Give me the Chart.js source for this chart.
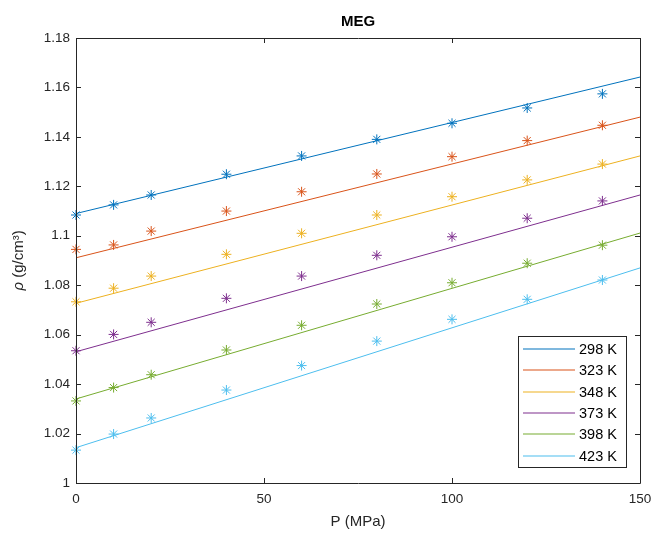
<!DOCTYPE html>
<html>
<head>
<meta charset="utf-8">
<script src="https://cdn.jsdelivr.net/npm/chart.js@4"></script>
<style>
  html, body { margin: 0; padding: 0; background: #fff; }
  #wrap { width: 655px; height: 535px; }
</style>
</head>
<body>
<div id="wrap"><canvas id="megChart" width="655" height="535"></canvas></div>
<script>
// pressure points (MPa)
const pressures = [0, 10, 20, 40, 60, 80, 100, 120, 140];
const temps = ['298 K', '323 K', '348 K', '373 K', '398 K', '423 K'];
const colors = ['#0072BD', '#D95319', '#EDB120', '#7E2F8E', '#77AC30', '#4DBEEE'];

// measured densities (g/cm3), one row per temperature
const rho298 = [1.1084, 1.1125, 1.1165, 1.1249, 1.1323, 1.1390, 1.1455, 1.1517, 1.1574];
const rho323 = [1.0945, 1.0963, 1.1019, 1.1100, 1.1178, 1.1250, 1.1320, 1.1385, 1.1447];
const rho348 = [1.0733, 1.0788, 1.0837, 1.0925, 1.1010, 1.1084, 1.1158, 1.1226, 1.1290];
const rho373 = [1.0535, 1.0601, 1.0650, 1.0747, 1.0837, 1.0921, 1.0996, 1.1071, 1.1141];
const rho398 = [1.0332, 1.0386, 1.0438, 1.0538, 1.0638, 1.0724, 1.0810, 1.0889, 1.0962];
const rho423 = [1.0133, 1.0198, 1.0263, 1.0376, 1.0475, 1.0574, 1.0662, 1.0743, 1.0821];
const measured = [rho298, rho323, rho348, rho373, rho398, rho423];

// linear fit endpoints at P = 0 and P = 150
const fitP = [0, 150];
const fit298 = [1.1090, 1.1642];
const fit323 = [1.0911, 1.1480];
const fit348 = [1.0727, 1.1323];
const fit373 = [1.0531, 1.1165];
const fit398 = [1.0340, 1.1011];
const fit423 = [1.0143, 1.0870];
const fits = [fit298, fit323, fit348, fit373, fit398, fit423];

const xTicks = [0, 50, 100, 150];
const yTicks = [1, 1.02, 1.04, 1.06, 1.08, 1.1, 1.12, 1.14, 1.16, 1.18];

const FONT = '"Liberation Sans", Arial, sans-serif';
const TXT = '#262626';

const datasets = [];
temps.forEach((t, i) => {
    datasets.push({
        label: t,
        data: fitP.map((p, k) => ({ x: p, y: fits[i][k] })),
        borderColor: colors[i],
        backgroundColor: colors[i],
        borderWidth: 1,
        pointRadius: 0,
        showLine: true,
        isFit: true
    });
});
temps.forEach((t, i) => {
    datasets.push({
        label: t + ' data',
        data: pressures.map((p, k) => ({ x: p, y: measured[i][k] })),
        borderColor: colors[i],
        backgroundColor: colors[i],
        pointStyle: 'star',
        pointRadius: 5,
        pointBorderWidth: 1,
        showLine: false,
        clip: false
    });
});

// axes box, inward ticks, title, axis labels, legend
const matlabLook = {
    id: 'matlabLook',
    afterDraw(chart) {
        const { ctx, chartArea: a, scales } = chart;
        ctx.save();
        ctx.strokeStyle = TXT;
        ctx.lineWidth = 1;
        ctx.beginPath();
        ctx.rect(Math.round(a.left) + 0.5, Math.round(a.top) + 0.5,
                 Math.round(a.right - a.left), Math.round(a.bottom - a.top));
        ctx.stroke();

        const tl = 5;
        ctx.beginPath();
        xTicks.forEach(v => {
            const px = Math.round(scales.x.getPixelForValue(v)) + 0.5;
            ctx.moveTo(px, a.bottom); ctx.lineTo(px, a.bottom - tl);
            ctx.moveTo(px, a.top); ctx.lineTo(px, a.top + tl);
        });
        yTicks.forEach(v => {
            const py = Math.round(scales.y.getPixelForValue(v)) + 0.5;
            ctx.moveTo(a.left, py); ctx.lineTo(a.left + tl, py);
            ctx.moveTo(a.right, py); ctx.lineTo(a.right - tl, py);
        });
        ctx.stroke();

        ctx.fillStyle = '#000';
        ctx.font = 'bold 15px ' + FONT;
        ctx.textAlign = 'center';
        ctx.textBaseline = 'middle';
        ctx.fillText('MEG', (a.left + a.right) / 2, 22);

        ctx.fillStyle = TXT;
        ctx.font = '15px ' + FONT;
        ctx.fillText('P (MPa)', (a.left + a.right) / 2, 522);

        ctx.save();
        ctx.translate(19, (a.top + a.bottom) / 2);
        ctx.rotate(-Math.PI / 2);
        ctx.font = 'italic 15px ' + FONT;
        const rhoW = ctx.measureText('\u03C1').width;
        ctx.font = '15px ' + FONT;
        const restW = ctx.measureText(' (g/cm\u00B3)').width;
        const start = -(rhoW + restW) / 2;
        ctx.textAlign = 'left';
        ctx.font = 'italic 15px ' + FONT;
        ctx.fillText('\u03C1', start, 0);
        ctx.font = '15px ' + FONT;
        ctx.fillText(' (g/cm\u00B3)', start + rhoW, 0);
        ctx.restore();

        // legend
        const lx = 518, ly = 336, lw = 108, lh = 131;
        ctx.fillStyle = '#fff';
        ctx.fillRect(lx, ly, lw, lh);
        ctx.strokeStyle = '#262626';
        ctx.lineWidth = 1;
        ctx.strokeRect(lx + 0.5, ly + 0.5, lw, lh);
        ctx.font = '14.5px ' + FONT;
        ctx.textAlign = 'left';
        ctx.textBaseline = 'middle';
        chart.data.datasets.filter(d => d.isFit).forEach((d, i) => {
            const y = Math.round(349 + i * 21.3);
            ctx.strokeStyle = d.borderColor;
            ctx.lineWidth = 1.2;
            ctx.beginPath();
            ctx.moveTo(523, y); ctx.lineTo(575, y);
            ctx.stroke();
            ctx.fillStyle = '#000';
            ctx.fillText(d.label, 579, y + 1);
        });
        ctx.restore();
    }
};

new Chart(document.getElementById('megChart'), {
    type: 'scatter',
    data: { datasets: datasets },
    options: {
        responsive: false,
        animation: false,
        layout: { autoPadding: false, padding: { top: 38, right: 15, left: 0, bottom: 0 } },
        plugins: { legend: { display: false }, tooltip: { enabled: false } },
        scales: {
            x: {
                type: 'linear', min: 0, max: 150,
                afterFit: s => { s.height = 52; s.paddingLeft = 0; s.paddingRight = 0; },
                afterBuildTicks: s => { s.ticks = xTicks.map(v => ({ value: v })); },
                grid: { display: false, drawTicks: false },
                border: { display: false },
                ticks: { color: TXT, font: { family: FONT, size: 13.5 }, padding: 8 }
            },
            y: {
                type: 'linear', min: 1, max: 1.18,
                afterFit: s => { s.width = 76; s.paddingTop = 0; s.paddingBottom = 0; },
                afterBuildTicks: s => { s.ticks = yTicks.map(v => ({ value: v })); },
                grid: { display: false, drawTicks: false },
                border: { display: false },
                ticks: {
                    color: TXT, font: { family: FONT, size: 13.5 }, padding: 6,
                    callback: v => String(Number(v.toFixed(2)))
                }
            }
        }
    },
    plugins: [matlabLook]
});
</script>
</body>
</html>
